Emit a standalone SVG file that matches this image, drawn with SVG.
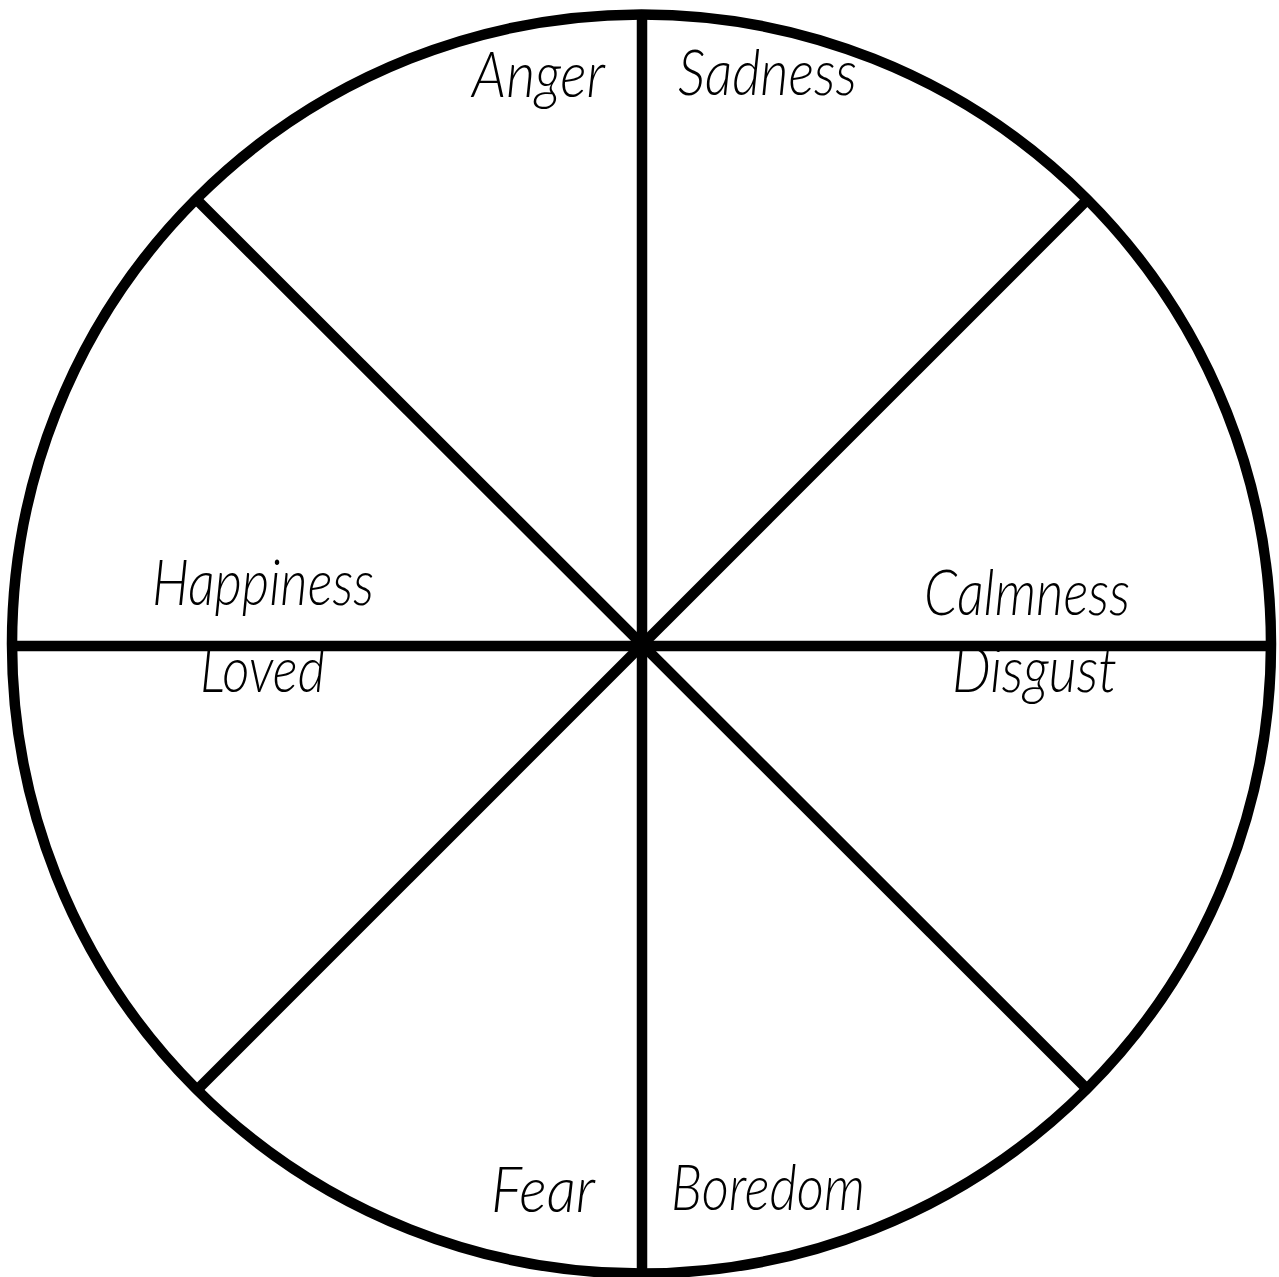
<svg xmlns="http://www.w3.org/2000/svg" width="1279" height="1277" viewBox="0 0 1279 1277">
<style>
.ln{stroke:#000;stroke-width:10.5;fill:none;stroke-linecap:butt}
.lb{font-family:"Lato","Liberation Sans","DejaVu Sans",sans-serif;font-style:italic;font-weight:300;font-size:64px;fill:#000}
</style>
<rect width="1279" height="1277" fill="#fff"/>
<g id="wheel">
<line class="ln" x1="642" y1="14" x2="642" y2="1274"/>
<line class="ln" x1="12" y1="646" x2="1271" y2="646"/>
<line class="ln" x1="197" y1="200" x2="1086" y2="1088"/>
<line class="ln" x1="1087" y1="200" x2="198" y2="1089"/>
<circle class="ln" cx="641.5" cy="644" r="629.5"/>
</g>
<g id="labels">
<g id="anger"><text class="lb" x="472" y="97" textLength="133" lengthAdjust="spacingAndGlyphs">Anger</text></g>
<g id="sadness"><text class="lb" x="678" y="95" textLength="179" lengthAdjust="spacingAndGlyphs">Sadness</text></g>
<g id="happiness"><text class="lb" x="152" y="605" textLength="222" lengthAdjust="spacingAndGlyphs">Happiness</text></g>
<g id="loved"><text class="lb" x="200" y="692" textLength="125" lengthAdjust="spacingAndGlyphs">Loved</text></g>
<g id="calmness"><text class="lb" x="924" y="615" textLength="206" lengthAdjust="spacingAndGlyphs">Calmness</text></g>
<g id="disgust"><text class="lb" x="952" y="692" textLength="165" lengthAdjust="spacingAndGlyphs">Disgust</text></g>
<g id="fear"><text class="lb" x="491" y="1212" textLength="104" lengthAdjust="spacingAndGlyphs">Fear</text></g>
<g id="boredom"><text class="lb" x="671" y="1210" textLength="194" lengthAdjust="spacingAndGlyphs">Boredom</text></g>
</g>
</svg>
